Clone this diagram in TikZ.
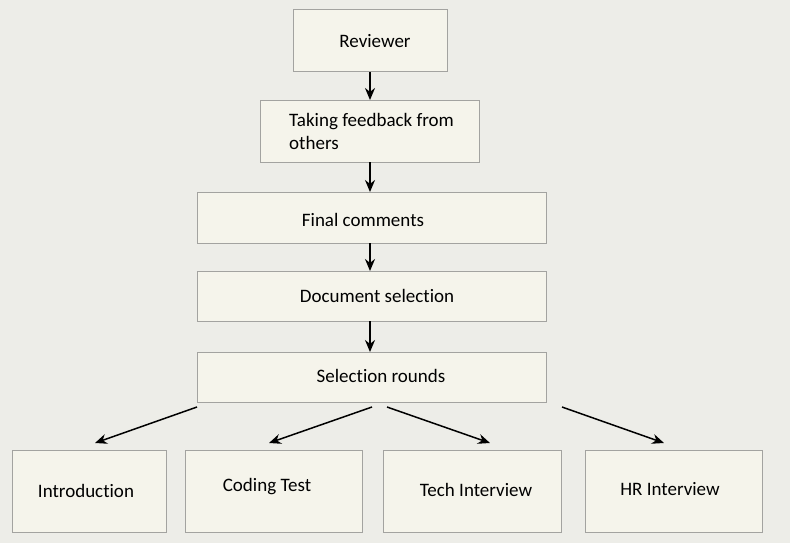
\documentclass[tikz,border=0pt]{standalone}
\usepackage{fontspec}
\setmainfont[Ligatures={NoCommon}]{Carlito}
\usetikzlibrary{arrows.meta}
\definecolor{bg}{HTML}{EDEDE8}
\definecolor{boxfill}{HTML}{F5F4EB}
\definecolor{boxline}{HTML}{A3A3A0}
\begin{document}
\begin{tikzpicture}[x=1pt,y=-1pt,
  box/.style={draw=boxline,fill=boxfill,line width=1pt},
  lbl/.style={font=\fontsize{19}{23}\selectfont,inner sep=0pt},
  arr/.style={line width=1.5pt,-{Stealth[length=12pt,width=10pt]}}]
\fill[bg] (0,0) rectangle (790,543);
\useasboundingbox (0,0) rectangle (790,543);
% boxes
\draw[box] (293,10) rectangle (447,72);
\node[lbl] (rev) at (375,41) {Reviewer};
\draw[box] (260,100) rectangle (479,162);
\node[lbl,align=left,anchor=west] (fb) at (289,131) {Taking feedback from\\others};
\draw[box] (197,192) rectangle (546,243);
\node[lbl] (fc) at (363,220) {Final comments};
\draw[box] (197,271) rectangle (546,321);
\node[lbl] (ds) at (377,296) {Document selection};
\draw[box] (197,352) rectangle (546,402);
\node[lbl] (sr) at (381,376) {Selection rounds};
\draw[box] (12,450) rectangle (166,532);
\node[lbl] (intro) at (86,491) {Introduction};
\draw[box] (185,450) rectangle (362,532);
\node[lbl] (code) at (267,487) {Coding Test};
\draw[box] (383,450) rectangle (561,532);
\node[lbl] (tech) at (476,490) {Tech Interview};
\draw[box] (585,450) rectangle (762,532);
\node[lbl] (hr) at (670,489) {HR Interview};
% coordinates
\coordinate (a1s) at (370,72); \coordinate (a1e) at (370,100);
\coordinate (a2s) at (370,162); \coordinate (a2e) at (370,192);
\coordinate (a3s) at (370,243); \coordinate (a3e) at (370,271);
\coordinate (a4s) at (370,321); \coordinate (a4e) at (370,352);
\coordinate (d1s) at (197,407); \coordinate (d1e) at (95,443);
\coordinate (d2s) at (372,407); \coordinate (d2e) at (269,443);
\coordinate (d3s) at (387,407); \coordinate (d3e) at (490,443);
\coordinate (d4s) at (562,407); \coordinate (d4e) at (664,443);
\draw[arr] (a1s) -- (a1e);
\draw[arr] (a2s) -- (a2e);
\draw[arr] (a3s) -- (a3e);
\draw[arr] (a4s) -- (a4e);
\draw[arr] (d1s) -- (d1e);
\draw[arr] (d2s) -- (d2e);
\draw[arr] (d3s) -- (d3e);
\draw[arr] (d4s) -- (d4e);
\end{tikzpicture}
\end{document}
